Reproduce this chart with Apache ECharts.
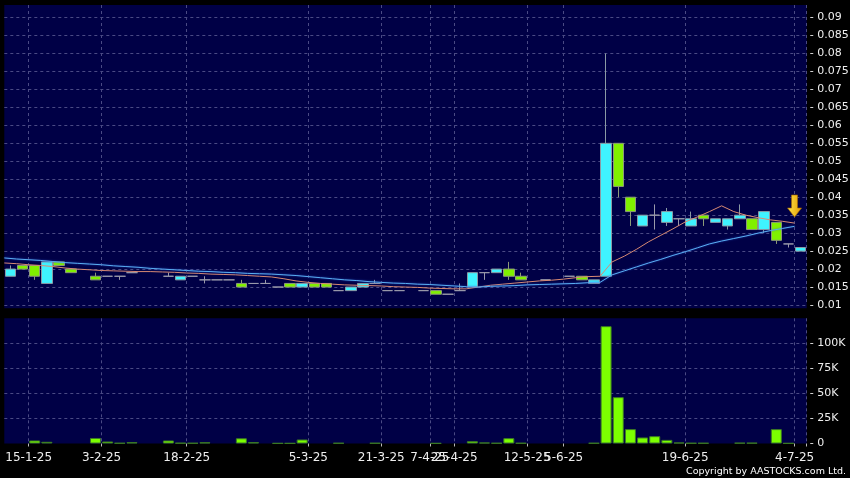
<!DOCTYPE html>
<html><head><meta charset="utf-8">
<script src="https://cdn.jsdelivr.net/npm/echarts@6/dist/echarts.min.js"></script>
<style>html,body{margin:0;padding:0;background:#000}#c{width:850px;height:478px}</style>
</head><body><div id="c"></div>
<script>
// x-axis tick labels (category index -> label)
const tickIdx = [2, 8, 15, 25, 31, 35, 37, 43, 46, 56, 65];
const tickLabels = ['15-1-25', '3-2-25', '18-2-25', '5-3-25', '21-3-25', '7-4-25', '25-4-25', '12-5-25', '5-6-25', '19-6-25', '4-7-25'];

const opens = [.018,.021,.021,.016,.022,.020,null,.018,.018,.018,.019,null,null,.018,.017,.018,.017,.017,.017,.016,
  .016,.016,.015,.016,.015,.016,.016,.014,.014,.015,.016,.014,.014,null,.014,.014,.013,.014,.015,.019,
  .019,.020,.018,null,.017,null,.018,.018,.016,.018,.055,.040,.032,.035,.033,.034,.032,.035,.033,.032,
  .034,.034,.031,.033,.027,.025];
const closes = [.020,.020,.018,.022,.021,.019,null,.017,.018,.018,.019,null,null,.018,.018,.018,.017,.017,.017,.015,
  .016,.016,.015,.015,.016,.015,.015,.014,.015,.016,.016,.014,.014,null,.014,.013,.013,.014,.019,.019,
  .020,.018,.017,null,.017,null,.018,.017,.017,.055,.043,.036,.035,.035,.036,.034,.034,.034,.034,.034,
  .035,.031,.036,.028,.027,.026];
const lows = [.018,.020,.017,.016,.021,.019,null,.017,.018,.017,.019,null,null,.018,.017,.018,.016,.017,.017,.015,
  .016,.016,.015,.015,.015,.015,.015,.014,.014,.015,.016,.014,.014,null,.014,.013,.013,.014,.015,.017,
  .019,.017,.017,null,.017,null,.018,.017,.016,.018,.040,.032,.032,.031,.032,.032,.032,.032,.033,.031,
  .034,.031,.030,.027,.026,.025];
const highs = [.021,.021,.021,.022,.022,.020,null,.019,.018,.018,.019,null,null,.019,.018,.018,.018,.017,.017,.017,
  .016,.017,.015,.016,.016,.016,.016,.014,.015,.016,.017,.014,.014,null,.014,.014,.013,.016,.019,.019,
  .020,.022,.019,null,.017,null,.018,.018,.017,.080,.055,.040,.035,.038,.037,.034,.036,.035,.034,.034,
  .038,.034,.036,.033,.027,.026];
const volumes = [null,null,3000,1700,null,null,null,5500,2000,500,1300,null,null,3000,600,500,1200,null,null,5200,
  1300,null,300,300,4000,null,null,500,null,null,500,null,null,null,null,300,null,null,2300,1000,
  500,5300,500,null,null,null,null,null,500,116700,46100,14300,6000,7300,3600,1000,500,500,null,null,
  700,700,null,14300,300,null];
// moving averages, one value per bar (drawn at the bar's left edge)
const maShort = [.0217,.0215,.0212,.0210,.0207,.0203,.0200,.0198,.0196,.0195,
  .0194,.0193,.0193,.0192,.0191,.0189,.0188,.0186,.0185,.0184,
  .0182,.0180,.0178,.0173,.0167,.0163,.0160,.0158,.0156,.0155,
  .0154,.0153,.0151,.0150,.0149,.0147,.0146,.0145,.0145,.0150,
  .0155,.0158,.0161,.0164,.0167,.0169,.0172,.0176,.0179,.0180,
  .0220,.0236,.0255,.0276,.0294,.0312,.0331,.0345,.0360,.0376,
  .0360,.0350,.0343,.0337,.0333,.0328];
const maLong = [.0231,.0228,.0226,.0224,.0221,.0218,.0216,.0214,.0212,.0209,
  .0207,.0205,.0202,.0200,.0198,.0196,.0194,.0193,.0191,.0190,
  .0188,.0187,.0186,.0184,.0182,.0179,.0176,.0173,.0170,.0168,
  .0165,.0163,.0161,.0160,.0158,.0157,.0155,.0153,.0151,.0150,
  .0152,.0153,.0154,.0156,.0157,.0158,.0159,.0160,.0162,.0163,
  .0184,.0195,.0206,.0217,.0227,.0238,.0248,.0259,.0270,.0278,
  .0285,.0292,.0300,.0307,.0313,.0319];

const N = opens.length;
const cats = opens.map((_, i) => String(i));
const labelAt = {};
tickIdx.forEach((k, j) => { labelAt[k] = tickLabels[j]; });
const showTick = (i) => labelAt[i] !== undefined;
const candleData = opens.map((o, i) => o == null ? ['-', '-', '-', '-'] : [o, closes[i], lows[i], highs[i]]);
const volData = volumes.map(v => v == null ? '-' : v);

const PANEL = '#000046';
const gridLine = { show: true, lineStyle: { color: '#4a4a84', type: [3, 3], width: 1 } };
const FONT = 'DejaVu Sans';

const chart = echarts.init(document.getElementById('c'));
chart.setOption({
  backgroundColor: '#000',
  animation: false,
  grid: [
    { left: 4.3, right: 43.3, top: 5, height: 300, show: true, backgroundColor: PANEL, borderWidth: 0, outerBoundsMode: 'none', containLabel: false },
    { left: 4.3, right: 43.3, top: 318.3, height: 125.2, show: true, backgroundColor: PANEL, borderWidth: 0, outerBoundsMode: 'none', containLabel: false }
  ],
  xAxis: [
    { type: 'category', gridIndex: 0, data: cats, boundaryGap: true,
      axisLine: { show: false }, axisTick: { show: false, interval: showTick },
      axisLabel: { show: false, interval: showTick },
      splitLine: Object.assign({}, gridLine, { interval: showTick }) },
    { type: 'category', gridIndex: 1, data: cats, boundaryGap: true,
      axisLine: { show: false },
      axisTick: { show: true, interval: showTick, length: 3, lineStyle: { color: '#bbbbbb' } },
      axisLabel: { interval: showTick, formatter: (v, i) => labelAt[i] || '', color: '#eeeeee',
        fontSize: 12, fontFamily: FONT, margin: 8, padding: [0, 12, 0, 0], hideOverlap: false },
      splitLine: Object.assign({}, gridLine, { interval: showTick }) },
    { type: 'value', gridIndex: 0, min: -0.5, max: N - 0.5, show: false }
  ],
  yAxis: [
    { type: 'value', gridIndex: 0, position: 'right', min: 0.01, max: 0.0935, interval: 0.005,
      axisLine: { show: false }, axisTick: { show: false },
      axisLabel: { color: '#eeeeee', fontSize: 11, fontFamily: FONT, margin: 3, showMaxLabel: false,
        formatter: v => '- ' + (+v.toFixed(3)) },
      splitLine: Object.assign({}, gridLine, { showMaxLine: false }) },
    { type: 'value', gridIndex: 1, position: 'right', min: 0, max: 124500, interval: 25000,
      axisLine: { show: false }, axisTick: { show: false },
      axisLabel: { color: '#eeeeee', fontSize: 11, fontFamily: FONT, margin: 3, showMaxLabel: false,
        formatter: v => v === 0 ? '- 0' : (v % 25000 === 0 ? '- ' + (v / 1000) + 'K' : '') },
      splitLine: Object.assign({}, gridLine, { showMaxLine: false, showMinLine: false }) }
  ],
  series: [
    { type: 'candlestick', xAxisIndex: 0, yAxisIndex: 0, data: candleData, barWidth: 11,
      itemStyle: { color: '#3ff3ff', color0: '#80f000', borderColor: '#8a9aa4', borderColor0: '#8c9a78',
        borderColorDoji: '#9a9aaa', borderWidth: 1 } },
    { type: 'line', xAxisIndex: 2, yAxisIndex: 0, data: maShort.map((v, i) => [i - 0.5, v]),
      symbol: 'none', z: 5, lineStyle: { color: '#d88a74', width: 1 } },
    { type: 'line', xAxisIndex: 2, yAxisIndex: 0, data: maLong.map((v, i) => [i - 0.5, v]),
      symbol: 'none', z: 5, lineStyle: { color: '#5aaef0', width: 1, shadowColor: 'rgba(40,90,220,0.8)', shadowBlur: 2 },
      markPoint: { silent: true, data: [{ coord: [N - 1.5, 0.03755] }],
        symbol: 'path://M4,0 L10,0 L10,13 L14,13 L7,22 L0,13 L4,13 Z', symbolSize: [14, 22],
        label: { show: false },
        itemStyle: { color: new echarts.graphic.LinearGradient(0, 0, 1, 0, [{ offset: 0, color: '#ffe44a' }, { offset: 1, color: '#e09a00' }]),
          borderColor: '#a86a00', borderWidth: 0.6 } } },
    { type: 'bar', xAxisIndex: 1, yAxisIndex: 1, data: volData, barWidth: 11,
      itemStyle: { color: '#7cff00', borderColor: '#3c7a24', borderWidth: 1 } }
  ],
  graphic: [
    { type: 'rect', silent: true, z: -10, shape: { x: 4.3, y: 305, width: 802.4, height: 3.3 }, style: { fill: PANEL } },
    { type: 'text', silent: true, right: 4, top: 466.5,
      style: { text: 'Copyright by AASTOCKS.com Ltd.', fill: '#ffffff', font: '9.5px "DejaVu Sans"' } }
  ]
});
</script>
</body></html>
